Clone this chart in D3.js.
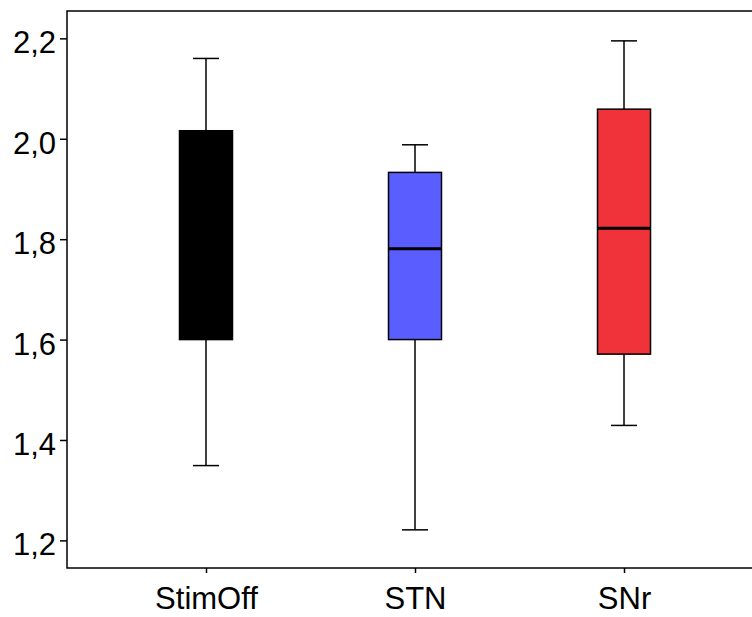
<!DOCTYPE html>
<html>
<head>
<meta charset="utf-8">
<script src="https://cdn.jsdelivr.net/npm/d3@7"></script>
<style>
  html, body { margin: 0; padding: 0; background: #fff; }
  svg { display: block; }
  text { font-family: "Liberation Sans", Arial, sans-serif; fill: #000; }
</style>
</head>
<body>
<svg id="chart" width="752" height="617"></svg>
<script>
// Groups and their box-plot statistics
const categories = ["StimOff", "STN", "SNr"];
const whiskerLow  = [1.349, 1.221, 1.429];
const q1          = [1.600, 1.600, 1.571];
const median      = [null, 1.781, 1.822];
const q3          = [2.016, 1.933, 2.059];
const whiskerHigh = [2.160, 1.988, 2.195];
const fills       = ["#000000", "#5a5dff", "#f0333b"];
const yTicks      = [1.2, 1.4, 1.6, 1.8, 2.0, 2.2];

const svg = d3.select("#chart");
const plotLeft = 67, plotRight = 763, plotTop = 11, plotBottom = 568;

const x = d3.scalePoint().domain(categories).range([plotLeft, plotRight]).padding(0.665);
const y = d3.scaleLinear().domain([1.145, 2.2545]).range([plotBottom, plotTop]);

const fmt = v => d3.format(".1f")(v).replace(".", ",");

// Frame
svg.append("rect")
  .attr("x", plotLeft).attr("y", plotTop)
  .attr("width", plotRight - plotLeft).attr("height", plotBottom - plotTop)
  .attr("fill", "none").attr("stroke", "#000").attr("stroke-width", 1.5);

// Y axis
const yAxis = svg.append("g")
  .attr("transform", `translate(${plotLeft},0)`)
  .call(d3.axisLeft(y).tickValues(yTicks).tickFormat(fmt).tickSize(7).tickPadding(4));
yAxis.select(".domain").remove();
yAxis.selectAll(".tick line").attr("stroke", "#000").attr("stroke-width", 1.5);
yAxis.selectAll(".tick text")
  .style("font-size", "31px")
  .attr("dy", "0.47em");

// X axis
const xAxis = svg.append("g")
  .attr("transform", `translate(0,${plotBottom})`)
  .call(d3.axisBottom(x).tickSize(5).tickPadding(14));
xAxis.select(".domain").remove();
xAxis.selectAll(".tick line").attr("stroke", "#000").attr("stroke-width", 1.5);
xAxis.selectAll(".tick text").style("font-size", "31px");

// Boxes
const boxW = 53, capW = 26;
const data = categories.map((c, i) => ({
  c, lo: whiskerLow[i], q1: q1[i], med: median[i], q3: q3[i], hi: whiskerHigh[i], fill: fills[i]
}));

const g = svg.append("g").selectAll("g").data(data).join("g")
  .attr("transform", d => `translate(${x(d.c)},0)`);

// whisker stems
g.append("line")
  .attr("x1", 0).attr("x2", 0)
  .attr("y1", d => y(d.hi)).attr("y2", d => y(d.q3))
  .attr("stroke", "#000").attr("stroke-width", 1.5);
g.append("line")
  .attr("x1", 0).attr("x2", 0)
  .attr("y1", d => y(d.q1)).attr("y2", d => y(d.lo))
  .attr("stroke", "#000").attr("stroke-width", 1.5);
// caps
g.append("line")
  .attr("x1", -capW / 2).attr("x2", capW / 2)
  .attr("y1", d => y(d.hi)).attr("y2", d => y(d.hi))
  .attr("stroke", "#000").attr("stroke-width", 1.5);
g.append("line")
  .attr("x1", -capW / 2).attr("x2", capW / 2)
  .attr("y1", d => y(d.lo)).attr("y2", d => y(d.lo))
  .attr("stroke", "#000").attr("stroke-width", 1.5);
// boxes
g.append("rect")
  .attr("x", -boxW / 2).attr("width", boxW)
  .attr("y", d => y(d.q3)).attr("height", d => y(d.q1) - y(d.q3))
  .attr("fill", d => d.fill)
  .attr("stroke", "#000").attr("stroke-width", 1.5);
// medians
g.filter(d => d.med != null).append("line")
  .attr("x1", -boxW / 2).attr("x2", boxW / 2)
  .attr("y1", d => y(d.med)).attr("y2", d => y(d.med))
  .attr("stroke", "#000").attr("stroke-width", 3);
</script>
</body>
</html>
